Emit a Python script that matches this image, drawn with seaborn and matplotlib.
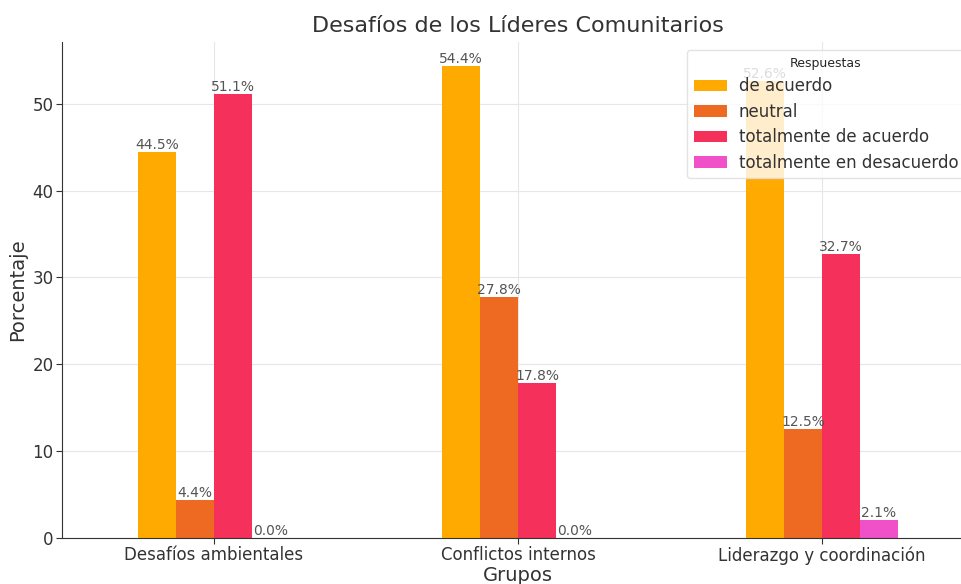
import matplotlib
matplotlib.use("Agg")
import matplotlib.pyplot as plt
import seaborn as sns
import pandas as pd

grupos = ["Desafíos ambientales", "Conflictos internos", "Liderazgo y coordinación"]
respuestas = ["de acuerdo", "neutral", "totalmente de acuerdo", "totalmente en desacuerdo"]
de_acuerdo = [44.5, 54.4, 52.6]
neutral = [4.4, 27.8, 12.5]
tot_acuerdo = [51.1, 17.8, 32.7]
tot_desacuerdo = [0.0, 0.0, 2.1]
colores = ["#FFAA00", "#EE6A22", "#F5305A", "#F050C8"]

series = [de_acuerdo, neutral, tot_acuerdo, tot_desacuerdo]
rows = []
for r, vals in zip(respuestas, series):
    for g, v in zip(grupos, vals):
        rows.append({"Grupos": g, "Respuesta": r, "Porcentaje": v})
df = pd.DataFrame(rows)

sns.set_style("whitegrid", {"grid.color": "#e6e6e6", "axes.edgecolor": "#333333"})
plt.rcParams["font.family"] = ["DejaVu Sans"]

fig = plt.figure(figsize=(9.62, 5.84), dpi=100)
ax = fig.add_axes([62/962, 46/584, (974-62)/962, (538-42)/584])

sns.barplot(data=df, x="Grupos", y="Porcentaje", hue="Respuesta",
            hue_order=respuestas, order=grupos, palette=colores,
            width=0.5, gap=0, saturation=1, ax=ax, legend=True, linewidth=0)

for cont in ax.containers:
    ax.bar_label(cont, fmt="%.1f%%", fontsize=10, color="#555555", padding=0)

ax.set_xlim(-0.5, 2.5)
ax.set_ylim(0, 57.12)
ax.set_yticks([0, 10, 20, 30, 40, 50])
ax.grid(True, axis="both", color="#e6e6e6")
ax.set_title("Desafíos de los Líderes Comunitarios", fontsize=16, color="#333333", pad=7)
ax.set_xlabel("Grupos", fontsize=14, color="#333333", labelpad=1)
ax.set_ylabel("Porcentaje", fontsize=14, color="#333333", labelpad=4)
ax.tick_params(axis="both", labelsize=12, colors="#333333", length=4, pad=2, left=True, bottom=True)
sns.despine(ax=ax)
ax.spines["left"].set_color("#333333")
ax.spines["bottom"].set_color("#333333")
ax.set_axisbelow(True)

leg = ax.legend(title="Respuestas", loc="upper left",
                bbox_to_anchor=(687/962, (584-50)/584), bbox_transform=fig.transFigure,
                borderaxespad=0, fontsize=12, title_fontsize=9, framealpha=0.8, frameon=True,
                labelspacing=0.45, handletextpad=0.7)
leg.get_frame().set_edgecolor("#dddddd")
for t in leg.get_texts():
    t.set_color("#333333")

fig.savefig("out.png", dpi=100)
